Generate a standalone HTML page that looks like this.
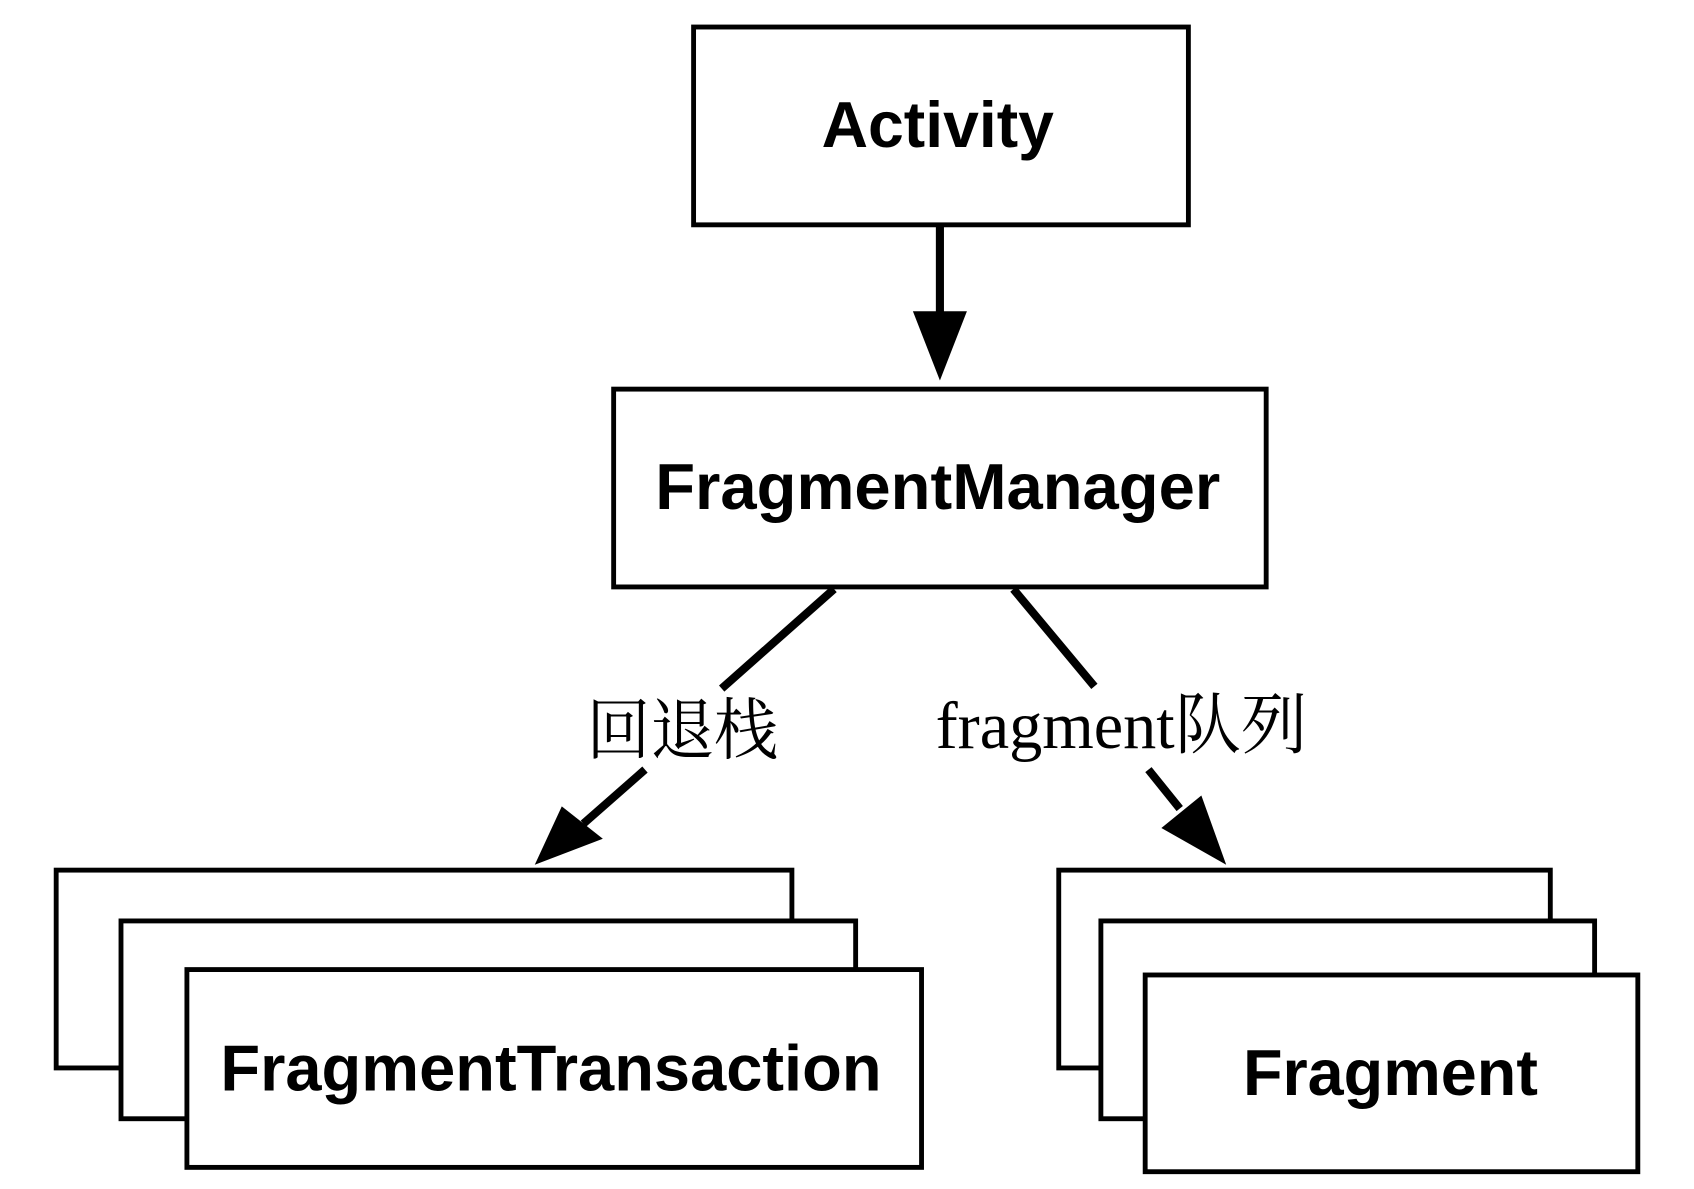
<!DOCTYPE html>
<html><head><meta charset="utf-8"><style>html,body{margin:0;padding:0;background:#fff}svg{display:block}</style></head>
<body>
<svg width="1694" height="1189" viewBox="0 0 1568 1100" preserveAspectRatio="none" xmlns="http://www.w3.org/2000/svg">
<g fill="#fff" stroke="#000" stroke-width="4.5">
<rect x="642" y="25" width="458" height="183"/>
<rect x="568" y="360" width="604" height="183"/>
<rect x="52" y="805" width="681" height="183"/>
<rect x="112" y="852" width="680" height="183"/>
<rect x="173" y="897" width="680" height="183"/>
<rect x="980" y="805" width="455" height="183"/>
<rect x="1019" y="852" width="457" height="183"/>
<rect x="1060" y="902" width="456" height="182"/>
</g>
<g stroke="#000" stroke-width="7.5" fill="none">
<line x1="870" y1="208" x2="870" y2="295"/>
<line x1="772" y1="545" x2="668" y2="637"/>
<line x1="597" y1="712" x2="540" y2="762"/>
<line x1="938" y1="545" x2="1013" y2="635"/>
<line x1="1063" y1="712" x2="1092" y2="748"/>
</g>
<g fill="#000">
<polygon points="845,288 895,288 870,352"/>
<polygon points="495,800 520,746 558,776"/>
<polygon points="1135,800 1075,766 1112,736"/>
</g>
<g font-family="'Liberation Sans',sans-serif" font-weight="bold" font-size="60" text-anchor="middle" fill="#000">
<text x="868" y="136" textLength="215" lengthAdjust="spacingAndGlyphs">Activity</text>
<text x="868" y="471" textLength="523" lengthAdjust="spacingAndGlyphs">FragmentManager</text>
<text x="510" y="1009" textLength="612" lengthAdjust="spacingAndGlyphs">FragmentTransaction</text>
<text x="1287" y="1013" textLength="273" lengthAdjust="spacingAndGlyphs">Fragment</text>
</g>
<g font-family="'Liberation Serif','Noto Serif CJK SC',serif" font-size="62" fill="#000">
<text x="543" y="697" textLength="177" lengthAdjust="spacingAndGlyphs">回退栈</text>
<text x="866" y="692" textLength="344" lengthAdjust="spacingAndGlyphs">fragment队列</text>
</g>
</svg>
</body></html>
